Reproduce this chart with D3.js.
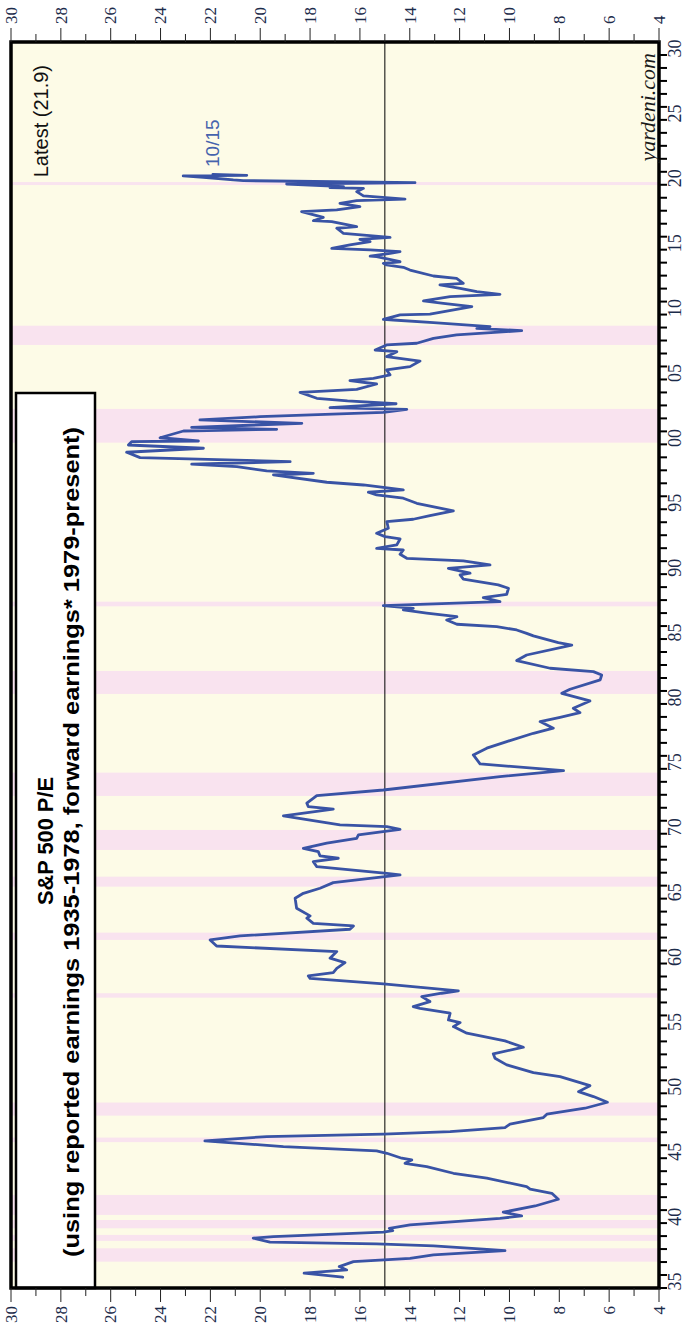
<!DOCTYPE html>
<html>
<head>
<meta charset="utf-8">
<script src="https://cdn.jsdelivr.net/npm/d3@7"></script>
<style>
  html, body { margin: 0; padding: 0; background: #ffffff; }
  svg { display: block; }
</style>
</head>
<body>
<svg id="chart" width="684" height="1335"></svg>
<script>
// ---- data ----
const dates = [
  1935.83,1936.14,1936.39,1936.65,1937.03,1937.29,1937.55,1937.88,1937.99,1938.24,
  1938.40,1938.53,1938.84,1938.96,1939.30,1939.42,1939.60,1939.86,1940.37,1940.55,
  1940.84,1941.32,1941.84,1942.30,1942.61,1942.81,1943.46,1943.84,1944.35,1944.61,
  1944.87,1945.00,1945.38,1945.56,1945.90,1946.33,1946.67,1946.85,1947.05,1947.36,
  1947.62,1948.13,1948.39,1948.85,1949.31,1949.75,1950.13,1950.59,1951.29,1951.60,
  1952.19,1952.70,1953.04,1953.55,1954.04,1954.63,1955.14,1955.45,1955.65,1956.17,
  1956.55,1956.68,1957.07,1957.45,1957.71,1957.89,1958.43,1958.86,1959.04,1959.30,
  1959.63,1960.07,1960.41,1960.92,1961.35,1961.82,1962.13,1962.64,1962.90,1963.10,
  1963.49,1963.67,1964.26,1965.03,1965.41,1965.80,1966.23,1966.83,1966.95,1967.46,
  1967.85,1968.11,1968.29,1968.62,1968.88,1969.27,1969.65,1969.91,1970.34,1970.55,
  1970.68,1971.37,1971.89,1972.09,1972.35,1972.94,1973.37,1974.40,1974.86,1975.38,
  1976.07,1976.59,1977.10,1977.74,1978.13,1978.64,1978.97,1979.33,1979.67,1980.23,
  1980.82,1981.13,1981.85,1982.23,1982.49,1982.75,1983.34,1983.77,1984.54,1984.72,
  1985.24,1985.44,1985.70,1985.95,1986.14,1986.47,1986.72,1986.99,1987.24,1987.37,
  1987.57,1987.88,1988.19,1988.45,1988.91,1989.17,1989.61,1989.94,1990.07,1990.45,
  1990.71,1991.02,1991.22,1991.53,1991.86,1991.99,1992.25,1992.71,1992.89,1993.15,
  1993.54,1994.04,1994.23,1994.51,1994.87,1995.46,1995.85,1996.10,1996.31,1996.49,
  1996.87,1997.08,1997.64,1997.77,1997.95,1998.28,1998.47,1998.67,1998.98,1999.39,
  1999.70,1999.95,2000.21,2000.26,2000.51,2001.03,2001.16,2001.31,2001.62,2001.88,
  2002.13,2002.47,2002.70,2002.83,2003.13,2003.35,2003.55,2004.01,2004.24,2004.65,
  2004.91,2005.09,2005.35,2005.73,2005.99,2006.42,2006.76,2007.14,2007.27,2007.66,
  2007.79,2008.17,2008.43,2008.76,2008.94,2009.07,2009.38,2009.58,2009.63,2009.97,
  2010.04,2010.61,2010.87,2011.05,2011.38,2011.56,2011.76,2012.02,2012.28,2012.41,
  2012.79,2012.97,2013.43,2013.64,2013.82,2013.95,2014.07,2014.46,2014.51,2014.72,
  2014.85,2014.98,2015.10,2015.36,2015.62,2015.80,2015.95,2016.26,2016.65,2016.77,
  2017.16,2017.23,2017.49,2017.93,2018.06,2018.31,2018.57,2018.78,2018.90,2019.14,
  2019.47,2019.73,2019.78,2019.85,2020.06,2020.16,2020.32,2020.37,2020.58,2020.68,
  2020.73,2020.79
];
const peValues = [
  16.69,18.24,16.53,16.83,16.26,13.99,13.05,10.18,11.05,13.05,
  15.33,19.61,20.28,19.47,15.06,14.68,14.82,13.99,10.38,9.51,
  10.25,8.97,8.04,8.30,9.17,9.31,10.91,12.25,13.32,14.19,
  13.92,14.32,14.92,15.33,19.07,22.22,19.74,15.06,12.38,10.18,
  9.98,8.64,8.50,6.97,6.07,6.63,7.23,6.77,7.97,9.04,
  10.11,10.58,10.65,9.44,10.18,11.71,12.25,11.98,12.45,12.38,
  13.59,13.86,13.19,13.52,12.72,12.05,15.06,18.00,18.07,17.07,
  16.93,16.60,17.20,16.93,21.75,22.01,20.81,16.40,16.26,17.87,
  18.13,18.00,18.54,18.60,18.27,17.60,17.07,14.39,14.92,17.73,
  17.87,16.87,17.60,17.67,18.27,17.33,16.13,16.06,14.39,14.92,
  16.80,19.07,17.07,18.07,18.13,17.73,15.06,10.38,7.83,11.18,
  11.45,10.91,10.11,9.04,8.24,8.77,7.97,7.17,7.44,6.77,
  7.90,7.57,6.36,6.30,6.63,8.37,9.71,9.31,7.50,8.04,
  9.04,9.31,9.71,10.51,12.11,12.52,12.11,13.32,14.26,13.86,
  15.06,10.38,11.05,10.11,10.04,10.45,11.85,11.98,11.58,12.45,
  10.78,11.85,14.12,14.39,14.26,15.33,14.52,14.39,14.99,15.33,
  14.86,14.92,13.86,13.19,12.25,13.72,14.26,15.33,15.66,14.26,
  15.86,17.33,19.47,17.87,19.74,20.94,22.75,18.80,24.82,25.36,
  22.28,25.29,25.16,22.48,24.02,23.08,19.34,22.75,18.33,22.42,
  20.01,15.06,14.12,17.20,14.55,16.50,17.73,18.40,16.13,15.33,
  16.40,15.46,14.79,14.93,13.99,13.59,14.93,14.52,15.39,14.93,
  13.72,13.05,12.12,9.51,11.31,10.78,13.05,14.66,15.06,14.39,
  13.19,11.51,12.65,13.45,12.38,10.38,11.31,11.98,12.79,11.85,
  12.12,13.05,13.99,14.26,14.93,15.06,14.39,15.33,15.59,14.79,
  14.39,15.59,17.13,16.40,15.59,16.00,14.79,16.66,16.93,16.13,
  17.13,17.87,17.47,18.34,16.93,16.00,16.80,16.13,14.19,15.86,
  16.13,15.86,17.20,16.66,18.94,13.79,20.68,21.08,22.28,23.09,
  20.54,21.90
];
// shaded periods (pink bands)
const bandStart = [1937.03,1938.63,1939.60,1940.63,1946.24,1948.28,1957.37,1961.82,1965.92,1968.75,1972.91,1980.77,1987.52,2000.13,2007.66,2019.98];
const bandEnd   = [1938.06,1939.09,1940.24,1942.17,1946.59,1949.29,1957.71,1962.38,1966.69,1970.29,1974.71,1982.54,1987.88,2002.73,2009.14,2020.21];
// axes
const peTicks = [4,5,6,7,8,9,10,11,12,13,14,15,16,17,18,19,20,21,22,23,24,25,26,27,28,29,30];
const peLabels = [4,6,8,10,12,14,16,18,20,22,24,26,28,30];
const yearTicks = d3.range(1935, 2031);
const yearLabels = [1935,1940,1945,1950,1955,1960,1965,1970,1975,1980,1985,1990,1995,2000,2005,2010,2015,2020,2025,2030];
const referencePE = 15;
const titleLine1 = "S&P 500 P/E";
const titleLine2 = "(using reported earnings 1935-1978, forward earnings* 1979-present)";
const latestText = "Latest (21.9)";
const dateText = "10/15";
const sourceText = "yardeni.com";

// ---- layout ----
const W = 1246, H = 648;
const svg = d3.select('#chart');
const g = svg.append('g').attr('transform', 'translate(11,1288) rotate(-90)');

const x = d3.scaleLinear().domain([1935, 2031]).range([0, W]);
const y = d3.scaleLinear().domain([4, 30]).range([H, 0]);

const serif = "'Liberation Serif', 'Times New Roman', serif";
const sans = "'Liberation Sans', Arial, Helvetica, sans-serif";

// background
g.append('rect').attr('x', 0).attr('y', 0).attr('width', W).attr('height', H).attr('fill', '#fdfbe7');

// bands
g.selectAll('rect.band').data(bandStart.map((s, i) => [s, bandEnd[i]])).enter()
  .append('rect').attr('class', 'band')
  .attr('x', d => x(d[0])).attr('width', d => x(d[1]) - x(d[0]))
  .attr('y', 0).attr('height', H).attr('fill', '#f9e3ef');

// title box
g.append('rect').attr('x', 0).attr('y', 5).attr('width', 895).attr('height', 79)
  .attr('fill', '#ffffff').attr('stroke', '#000').attr('stroke-width', 2.5);

// reference line
g.append('line').attr('x1', 0).attr('x2', W).attr('y1', y(referencePE)).attr('y2', y(referencePE))
  .attr('stroke', '#000').attr('stroke-width', 1);

// data line
const pts = dates.map((d, i) => [d, peValues[i]]);
g.append('path').datum(pts)
  .attr('d', d3.line().x(d => x(d[0])).y(d => y(d[1])))
  .attr('fill', 'none').attr('stroke', '#3953a5').attr('stroke-width', 2.8)
  .attr('stroke-linejoin', 'round').attr('stroke-linecap', 'round');

// frame
g.append('rect').attr('x', 0).attr('y', 0).attr('width', W).attr('height', H)
  .attr('fill', 'none').attr('stroke', '#000').attr('stroke-width', 3.5);

// year axis (bottom in local coords -> right side of picture)
const xAxis = g.append('g').attr('transform', `translate(0,${H})`);
xAxis.selectAll('line').data(yearTicks).enter().append('line')
  .attr('x1', d => x(d)).attr('x2', d => x(d)).attr('y1', 0).attr('y2', 8)
  .attr('stroke', '#000').attr('stroke-width', 2);
xAxis.selectAll('text').data(yearLabels).enter().append('text')
  .attr('x', d => x(d + 0.5)).attr('y', 9).attr('dy', '0.72em')
  .attr('text-anchor', 'middle').attr('font-family', serif).attr('font-size', 18)
  .attr('fill', '#1c2b4a').text(d => String(d % 100).padStart(2, '0'));

// P/E axes on both ends
function peAxis(side) {
  const ax = g.append('g').attr('transform', side > 0 ? `translate(${W},0)` : 'translate(0,0)');
  ax.selectAll('line').data(peTicks).enter().append('line')
    .attr('y1', d => y(d)).attr('y2', d => y(d))
    .attr('x1', 0).attr('x2', d => side * (d % 2 === 0 ? 14 : 8))
    .attr('stroke', '#222').attr('stroke-width', 1);
  ax.selectAll('text').data(peLabels).enter().append('text')
    .attr('x', side * 18).attr('y', d => y(d)).attr('dy', '0.34em')
    .attr('text-anchor', side > 0 ? 'start' : 'end')
    .attr('font-family', serif).attr('font-size', 17).attr('fill', '#1c2b4a')
    .text(d => d);
}
peAxis(1);
peAxis(-1);

// texts
g.append('text').attr('x', 447).attr('y', 42).attr('text-anchor', 'middle')
  .attr('font-family', sans).attr('font-weight', 'bold').attr('font-size', 22).attr('fill', '#000')
  .attr('textLength', 128).attr('lengthAdjust', 'spacingAndGlyphs')
  .text(titleLine1);
g.append('text').attr('x', 446).attr('y', 67.5).attr('text-anchor', 'middle')
  .attr('font-family', sans).attr('font-weight', 'bold').attr('font-size', 22).attr('fill', '#000')
  .attr('textLength', 830).attr('lengthAdjust', 'spacingAndGlyphs')
  .text(titleLine2);
g.append('text').attr('x', 1223).attr('y', 37).attr('text-anchor', 'end')
  .attr('font-family', sans).attr('font-size', 20).attr('fill', '#111')
  .text(latestText);
g.append('text').attr('x', 1121).attr('y', 208).attr('text-anchor', 'start')
  .attr('font-family', sans).attr('font-size', 19).attr('fill', '#4563ad')
  .text(dateText);
g.append('text').attr('x', 1235).attr('y', 644).attr('text-anchor', 'end')
  .attr('font-family', serif).attr('font-style', 'italic').attr('font-size', 22).attr('fill', '#1a1a1a')
  .text(sourceText);
</script>
</body>
</html>
